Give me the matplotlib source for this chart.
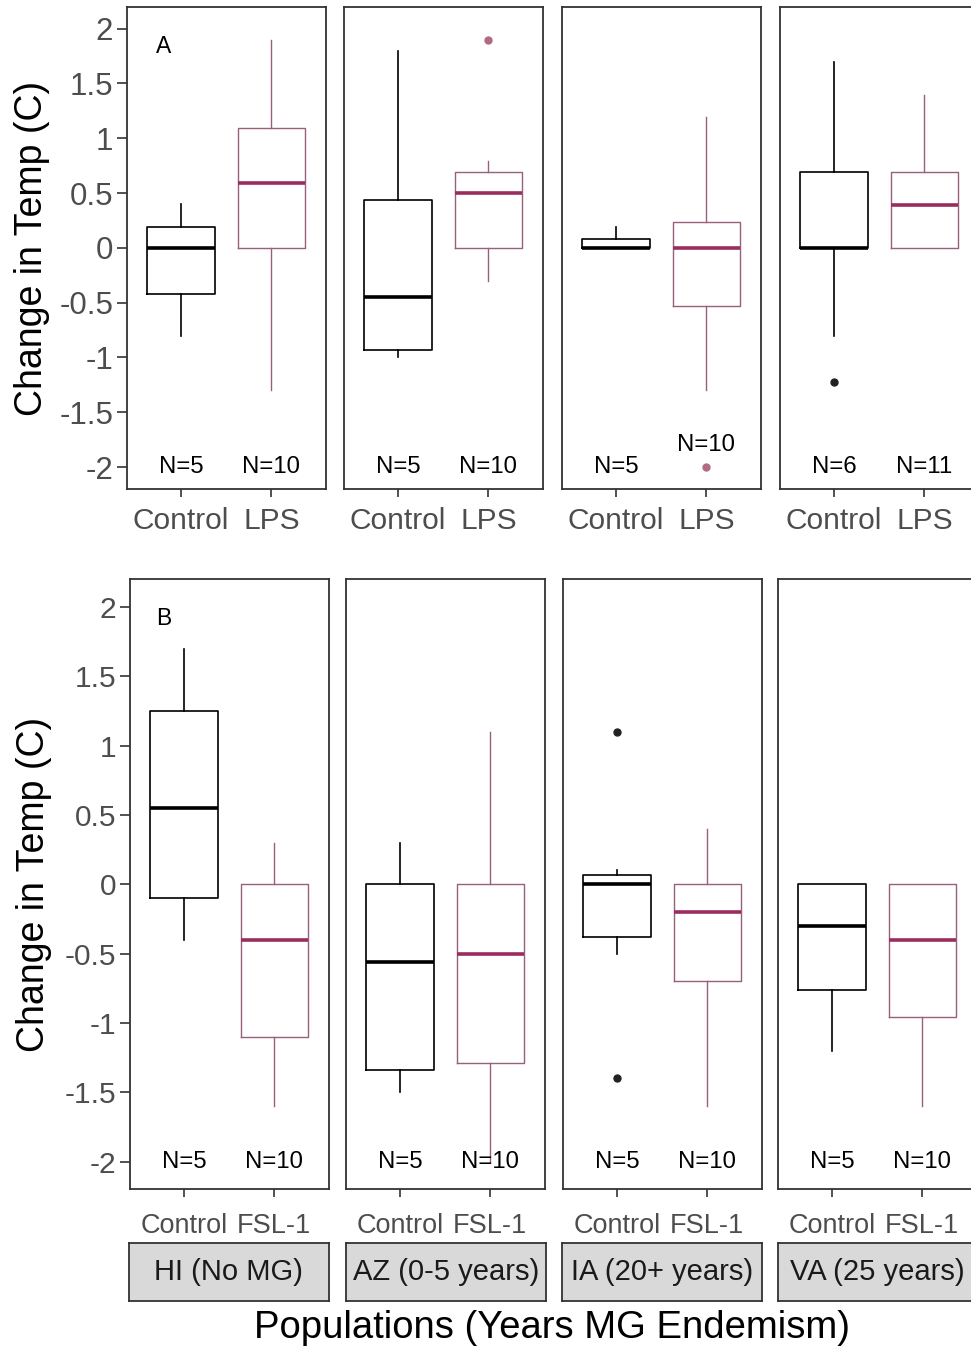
import matplotlib
matplotlib.use("Agg")
import matplotlib.pyplot as plt

plt.rcParams['font.family'] = ['Liberation Sans', 'DejaVu Sans']
plt.rcParams['axes.unicode_minus'] = False

# ---------------- data ----------------
populations = ["HI (No MG)", "AZ (0-5 years)", "IA (20+ years)", "VA (25 years)"]
groups_A = ["Control", "LPS"]
groups_B = ["Control", "FSL-1"]

# Row A (LPS challenge)
ctrl_A_whislo = [-0.80, -1.00, 0.00, -0.80]
ctrl_A_q1 = [-0.42, -0.93, 0.00, 0.00]
ctrl_A_med = [0.00, -0.45, 0.00, 0.00]
ctrl_A_q3 = [0.19, 0.44, 0.08, 0.69]
ctrl_A_whishi = [0.40, 1.80, 0.19, 1.70]
ctrl_A_fliers = [[], [], [], [-1.22]]

trt_A_whislo = [-1.30, -0.30, -1.30, 0.00]
trt_A_q1 = [0.00, 0.00, -0.53, 0.00]
trt_A_med = [0.59, 0.50, 0.00, 0.39]
trt_A_q3 = [1.09, 0.69, 0.24, 0.69]
trt_A_whishi = [1.90, 0.79, 1.19, 1.39]
trt_A_fliers = [[], [1.90], [-2.00], []]

n_A_ctrl = [5, 5, 5, 6]
n_A_trt = [10, 10, 10, 11]
n_A_trt_y = [-2.0, -2.0, -1.8, -2.0]

# Row B (FSL-1 challenge)
ctrl_B_whislo = [-0.40, -1.50, -0.50, -1.20]
ctrl_B_q1 = [-0.10, -1.34, -0.38, -0.76]
ctrl_B_med = [0.55, -0.56, 0.00, -0.30]
ctrl_B_q3 = [1.25, 0.00, 0.07, 0.00]
ctrl_B_whishi = [1.70, 0.30, 0.10, 0.00]
ctrl_B_fliers = [[], [], [1.10, -1.40], []]

trt_B_whislo = [-1.60, -2.00, -1.60, -1.60]
trt_B_q1 = [-1.10, -1.29, -0.70, -0.96]
trt_B_med = [-0.40, -0.50, -0.20, -0.40]
trt_B_q3 = [0.00, 0.00, 0.00, 0.00]
trt_B_whishi = [0.30, 1.10, 0.40, 0.00]
trt_B_fliers = [[], [], [], []]

n_B_ctrl = [5, 5, 5, 5]
n_B_trt = [10, 10, 10, 10]
n_B_trt_y = [-2.0, -2.0, -2.0, -2.0]

yticks = [2, 1.5, 1, 0.5, 0, -0.5, -1, -1.5, -2]
ytick_labels = ["2", "1.5", "1", "0.5", "0", "-0.5", "-1", "-1.5", "-2"]
panel_letters = ["A", "B"]

# ---------------- style ----------------
W, H = 971, 1348
CTRL = "#000000"
TRT_BOX = "#98607A"
TRT_MED = "#9B2D5E"
TRT_FLIER = "#B06A85"
SPINE = "#333333"
TICKLAB = "#4D4D4D"

fig = plt.figure(figsize=(W / 100, H / 100), dpi=100)
fig.patch.set_facecolor("white")


def fx(px):
    return px / W


def fy(py):
    return 1 - py / H


rows = [
    dict(top=6.7, bottom=489.0, lefts=[127, 344, 562, 780], width=198.5,
         groups=groups_A,
         ctrl=(ctrl_A_whislo, ctrl_A_q1, ctrl_A_med, ctrl_A_q3, ctrl_A_whishi, ctrl_A_fliers),
         trt=(trt_A_whislo, trt_A_q1, trt_A_med, trt_A_q3, trt_A_whishi, trt_A_fliers),
         n_ctrl=n_A_ctrl, n_trt=n_A_trt, n_trt_y=n_A_trt_y, letter_xy=(0.80, 1.84),
         ylab_xy=(32, 248), xtick_fs=21.5, xtick_pad=7, ytick_fs=22.5),
    dict(top=579.3, bottom=1189.3, lefts=[130, 346, 563, 778], width=198.5,
         groups=groups_B,
         ctrl=(ctrl_B_whislo, ctrl_B_q1, ctrl_B_med, ctrl_B_q3, ctrl_B_whishi, ctrl_B_fliers),
         trt=(trt_B_whislo, trt_B_q1, trt_B_med, trt_B_q3, trt_B_whishi, trt_B_fliers),
         n_ctrl=n_B_ctrl, n_trt=n_B_trt, n_trt_y=n_B_trt_y, letter_xy=(0.77, 1.92),
         ylab_xy=(34, 884), xtick_fs=19.5, xtick_pad=11, ytick_fs=21.5),
]


def stats(arrs, i, label):
    whislo, q1, med, q3, whishi, fliers = arrs
    return dict(whislo=whislo[i], q1=q1[i], med=med[i], q3=q3[i],
                whishi=whishi[i], fliers=fliers[i], label=label)


for r, row in enumerate(rows):
    for i, pop in enumerate(populations):
        left = row["lefts"][i]
        ax = fig.add_axes([fx(left), fy(row["bottom"]), fx(row["width"]),
                           (row["bottom"] - row["top"]) / H])
        ax.set_xlim(0.4, 2.6)
        ax.set_ylim(-2.2, 2.2)
        ax.set_facecolor("white")
        for sp in ax.spines.values():
            sp.set_color(SPINE)
            sp.set_linewidth(1.3)

        # control box
        ax.bxp([stats(row["ctrl"], i, row["groups"][0])], positions=[1], widths=0.75,
               showcaps=False, patch_artist=False,
               boxprops=dict(color=CTRL, linewidth=1.2),
               whiskerprops=dict(color=CTRL, linewidth=1.2),
               medianprops=dict(color=CTRL, linewidth=2.6, solid_capstyle="butt"),
               flierprops=dict(marker="o", markersize=5, markerfacecolor="#222222",
                               markeredgecolor="#222222"))
        # treatment box
        ax.bxp([stats(row["trt"], i, row["groups"][1])], positions=[2], widths=0.75,
               showcaps=False, patch_artist=False,
               boxprops=dict(color=TRT_BOX, linewidth=1.0),
               whiskerprops=dict(color=TRT_BOX, linewidth=1.0),
               medianprops=dict(color=TRT_MED, linewidth=2.6, solid_capstyle="butt"),
               flierprops=dict(marker="o", markersize=5, markerfacecolor=TRT_FLIER,
                               markeredgecolor=TRT_FLIER))

        # N labels
        ax.text(1, -2.0, "N=%d" % row["n_ctrl"][i], ha="center", va="center",
                fontsize=17.3, color="black")
        ax.text(2, row["n_trt_y"][i], "N=%d" % row["n_trt"][i], ha="center", va="center",
                fontsize=17.3, color="black")

        ax.set_xticks([1, 2])
        ax.set_xticklabels(row["groups"], fontsize=row["xtick_fs"], color=TICKLAB)
        ax.tick_params(axis="x", length=6, width=1.2, color=SPINE, pad=row["xtick_pad"])
        if i == 0:
            ax.set_yticks(yticks)
            ax.set_yticklabels(ytick_labels, fontsize=row["ytick_fs"], color=TICKLAB)
            ax.tick_params(axis="y", length=7, width=1.2, color=SPINE, pad=3)
            lx, ly = row["letter_xy"]
            ax.text(lx, ly, panel_letters[r], ha="center", va="center",
                    fontsize=16.5, color="black")
        else:
            ax.set_yticks([])

    fig.text(fx(row["ylab_xy"][0]), fy(row["ylab_xy"][1]), "Change in Temp (C)",
             rotation=90, ha="center", va="center", fontsize=27, color="black")

# strips below bottom row
strip_lefts = [129, 346, 562, 778]
for i, pop in enumerate(populations):
    sax = fig.add_axes([fx(strip_lefts[i]), fy(1301), fx(199.5), 58 / H])
    sax.set_xlim(0, 1)
    sax.set_ylim(0, 1)
    sax.set_facecolor("#D9D9D9")
    for sp in sax.spines.values():
        sp.set_color(SPINE)
        sp.set_linewidth(1.3)
    sax.set_xticks([])
    sax.set_yticks([])
    sax.text(0.5, 0.5, pop, ha="center", va="center", fontsize=21, color="#1A1A1A")

fig.text(fx(552), fy(1328), "Populations (Years MG Endemism)", ha="center",
         va="center", fontsize=27.5, color="black")

fig.savefig("out.png", dpi=100, facecolor="white")
